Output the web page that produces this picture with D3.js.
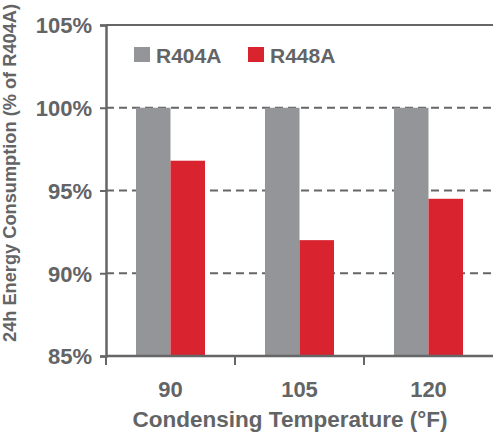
<!DOCTYPE html>
<html>
<head>
<meta charset="utf-8">
<script src="https://cdn.jsdelivr.net/npm/d3@7"></script>
<style>
  body { margin: 0; background: #fff; }
  text { font-family: "Liberation Sans", Arial, Helvetica, sans-serif; font-weight: bold; fill: #636466; }
</style>
</head>
<body>
<script>
var temps = ["90", "105", "120"]
var series = ["R404A", "R448A"]
var r404a = [100, 100, 100]
var r448a = [96.8, 92.0, 94.5]
var yTicks = [85, 90, 95, 100, 105]

var width = 493, height = 433
var margin = {top: 25, right: 0, bottom: 77, left: 106}

var data = temps.map((t, i) => ({temp: t, R404A: r404a[i], R448A: r448a[i]}))

var x0 = d3.scaleBand()
    .domain(temps)
    .range([margin.left, width - margin.right])
    .paddingInner(0.465)
    .paddingOuter(0.2325)

var x1 = d3.scaleBand()
    .domain(series)
    .range([0, x0.bandwidth()])

var y = d3.scaleLinear()
    .domain([85, 105])
    .range([height - margin.bottom, margin.top])

var color = d3.scaleOrdinal()
    .domain(series)
    .range(["#939598", "#d9232f"])

var svg = d3.select("body").append("svg")
    .attr("width", width)
    .attr("height", height)

// dashed grid lines
svg.append("g")
  .selectAll("line")
  .data(yTicks.filter(d => d > 85 && d < 105))
  .enter().append("line")
    .attr("x1", margin.left)
    .attr("x2", width)
    .attr("y1", d => y(d))
    .attr("y2", d => y(d))
    .attr("stroke", "#666")
    .attr("stroke-width", 2)
    .attr("stroke-dasharray", "8,5")

// top border
svg.append("line")
    .attr("x1", margin.left).attr("x2", width)
    .attr("y1", y(105)).attr("y2", y(105))
    .attr("stroke", "#666").attr("stroke-width", 2)

// bars
svg.append("g")
  .selectAll("g")
  .data(data)
  .enter().append("g")
    .attr("transform", d => "translate(" + x0(d.temp) + ",0)")
  .selectAll("rect")
  .data(d => series.map(k => ({key: k, value: d[k]})))
  .enter().append("rect")
    .attr("x", d => x1(d.key))
    .attr("width", x1.bandwidth())
    .attr("y", d => y(d.value))
    .attr("height", d => y(85) - y(d.value))
    .attr("fill", d => color(d.key))

// y axis
var yAxis = svg.append("g")
    .attr("transform", "translate(" + margin.left + ",0)")
    .call(d3.axisLeft(y).tickValues(yTicks).tickFormat(d => d + "%").tickSize(6).tickPadding(8))
yAxis.select(".domain").attr("stroke", "#666").attr("stroke-width", 2.5)
yAxis.selectAll(".tick line").attr("stroke", "#666").attr("stroke-width", 2)
yAxis.selectAll(".tick text")
    .attr("dy", "0.36em")
    .style("font-size", "22px")
    .style("fill", "#636466")
    .style("font-family", "'Liberation Sans', Arial, sans-serif")
    .style("font-weight", "bold")

// x axis line and group boundary ticks
var base = y(85)
svg.append("line")
    .attr("x1", margin.left).attr("x2", width)
    .attr("y1", base).attr("y2", base)
    .attr("stroke", "#666").attr("stroke-width", 2.5)

var bounds = temps.map(t => x0(t) - x0.step() * x0.paddingInner() / 2)
svg.append("g")
  .selectAll("line")
  .data(bounds)
  .enter().append("line")
    .attr("x1", d => d).attr("x2", d => d)
    .attr("y1", base).attr("y2", base + 9)
    .attr("stroke", "#666").attr("stroke-width", 2)

svg.append("g")
  .selectAll("text")
  .data(temps)
  .enter().append("text")
    .attr("x", d => x0(d) + x0.bandwidth() / 2)
    .attr("y", 397)
    .attr("text-anchor", "middle")
    .style("font-size", "22px")
    .text(d => d)

// axis titles
svg.append("text")
    .attr("x", 290)
    .attr("y", 427)
    .attr("text-anchor", "middle")
    .style("font-size", "22px")
    .attr("textLength", 315)
    .attr("lengthAdjust", "spacingAndGlyphs")
    .text("Condensing Temperature (\u00B0F)")

svg.append("text")
    .attr("transform", "translate(16,173) rotate(-90)")
    .attr("text-anchor", "middle")
    .style("font-size", "18.5px")
    .attr("textLength", 338)
    .attr("lengthAdjust", "spacingAndGlyphs")
    .text("24h Energy Consumption (% of R404A)")

// legend
var legend = svg.append("g")
  .selectAll("g")
  .data(series)
  .enter().append("g")
    .attr("transform", (d, i) => "translate(" + (134 + i * 114) + ",47)")
legend.append("rect")
    .attr("width", 16).attr("height", 15)
    .attr("fill", d => color(d))
legend.append("text")
    .attr("x", 22)
    .attr("y", 15.5)
    .style("font-size", "21px")
    .text(d => d)
</script>
</body>
</html>
